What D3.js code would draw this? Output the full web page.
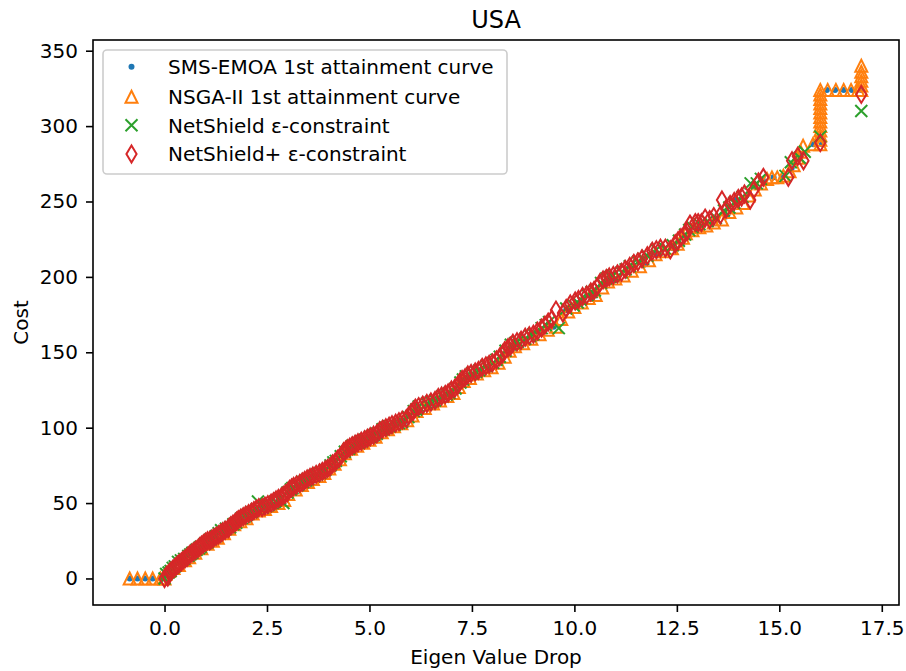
<!DOCTYPE html>
<html>
<head>
<meta charset="utf-8">
<script src="https://cdn.jsdelivr.net/npm/d3@7"></script>
<style>
  body { margin: 0; background: #fff; }
  svg { display: block; }
  text { font-family: "DejaVu Sans", sans-serif; fill: #000; }
</style>
</head>
<body>
<svg id="chart" width="906" height="671"></svg>
<script>
// Series: [eigen value drop, cost]
const smsEmoa = [[-0.85,0],[-0.66,0],[-0.47,0],[-0.29,0],[-0.1,0],[0,0],[0.15,6],[0.4,10],[0.7,16],[1.0,22],[1.3,28],[1.6,34],[1.95,40],[2.3,45],[2.6,49],[2.77,55],[3.1,58],[3.45,63],[3.8,69],[4.1,74],[4.38,82],[4.6,87],[4.9,91],[5.2,95],[5.5,100],[5.85,104],[6.1,110],[6.45,115],[6.8,120],[7.1,124],[7.26,128],[7.5,134],[7.9,139],[8.2,144],[8.45,152],[8.8,157],[9.2,163],[9.5,167],[9.8,178],[10.1,182],[10.45,187],[10.75,195],[10.95,198],[11.3,203],[11.7,208],[12.0,215],[12.4,219],[12.7,227],[13.0,232],[13.35,235],[13.7,240],[13.92,251],[14.2,254],[14.36,260],[14.6,264],[14.86,266],[15.06,266],[15.3,272],[15.5,280],[15.83,288],[16.04,288],[16.16,324],[16.36,324],[16.57,324],[16.77,324],[17.0,324]];

const nsga2 = [[-0.85,0],[-0.66,0],[-0.47,0],[-0.29,0],[-0.1,0],[0,0],[0.02,3],[0.1,5],[0.22,7],[0.35,9],[0.5,12],[0.6,14],[0.75,17],[0.9,20],[1.05,23],[1.18,25],[1.3,27],[1.45,30],[1.58,33],[1.7,36],[1.85,38],[2.0,40],[2.15,43],[2.3,45],[2.45,46],[2.6,48],[2.78,50],[2.92,52],[3.02,56],[3.2,59],[3.35,62],[3.5,64],[3.62,66],[3.78,68],[3.9,70],[4.02,73],[4.15,76],[4.28,79],[4.4,83],[4.55,86],[4.7,88],[4.85,90],[5.0,92],[5.15,94],[5.3,97],[5.45,99],[5.6,101],[5.78,103],[5.92,105],[6.05,108],[6.15,111],[6.35,113],[6.55,116],[6.72,118],[6.9,121],[7.05,123],[7.18,127],[7.3,131],[7.45,133],[7.62,136],[7.8,138],[7.98,140],[8.15,143],[8.3,147],[8.42,151],[8.55,154],[8.75,156],[8.95,159],[9.15,162],[9.35,165],[9.55,167],[9.68,172],[9.85,177],[10.0,180],[10.18,183],[10.35,186],[10.52,188],[10.68,193],[10.82,197],[11.0,199],[11.2,201],[11.4,204],[11.6,207],[11.82,211],[11.98,215],[12.18,217],[12.38,219],[12.52,222],[12.65,226],[12.72,229],[12.88,231],[13.05,233],[13.22,234],[13.4,236],[13.6,238],[13.78,243],[13.95,246],[14.12,249],[14.25,254],[14.4,258],[14.55,262],[14.7,265],[14.82,266],[14.95,266],[15.1,267],[15.25,270],[15.35,274],[15.45,279],[15.52,283],[15.58,287],[15.82,288],[16.0,288],[16.0,291],[16.0,294],[16.0,297],[16.0,300],[16.0,303],[16.0,306],[16.0,309],[16.0,312],[16.0,315],[16.0,318],[16.0,321],[16.0,324],[16.18,324],[16.38,324],[16.57,324],[16.75,324],[16.92,324],[17.0,324],[17.0,327],[17.0,330],[17.0,333],[17.0,336],[17.0,340]];

const netShield = [[0.0,0],[0.04,3],[0.1,4],[0.15,5],[0.2,7],[0.25,8],[0.33,11],[0.4,12],[0.48,13],[0.58,15],[0.63,16],[0.68,17],[0.78,19],[0.84,20],[0.88,21],[0.98,23],[1.05,24],[1.12,26],[1.25,28],[1.32,30],[1.38,32],[1.5,33],[1.6,34],[1.68,36],[1.75,37],[1.88,40],[1.95,41],[2.0,42],[2.12,44],[2.28,51],[2.25,46],[2.4,47],[2.48,48],[2.55,49],[2.7,51],[2.82,53],[2.9,50],[3.0,57],[3.08,59],[3.12,60],[3.25,62],[3.38,64],[3.45,65],[3.5,66],[3.65,68],[3.72,69],[3.8,70],[3.92,72],[4.05,75],[4.12,77],[4.18,78],[4.3,81],[4.4,84],[4.5,86],[4.58,88],[4.72,90],[4.8,91],[4.88,92],[5.02,94],[5.1,95],[5.18,96],[5.32,99],[5.4,100],[5.48,101],[5.62,102],[5.72,103],[5.8,104],[5.95,107],[6.08,111],[6.14,112],[6.2,114],[6.4,116],[6.5,117],[6.6,118],[6.78,121],[6.88,122],[6.95,123],[7.1,126],[7.22,130],[7.28,132],[7.35,134],[7.5,136],[7.6,137],[7.68,138],[7.85,141],[8.02,143],[8.1,145],[8.18,147],[8.32,151],[8.45,155],[8.55,156],[8.62,157],[8.8,159],[8.92,161],[9.0,162],[9.2,166],[9.3,168],[9.38,170],[9.62,166],[9.8,179],[9.98,181],[10.08,183],[10.15,185],[10.32,188],[10.42,190],[10.5,191],[10.65,196],[10.78,199],[10.88,200],[10.95,201],[11.15,203],[11.25,205],[11.35,207],[11.55,210],[11.68,212],[11.78,214],[12.0,218],[12.2,219],[12.4,221],[12.55,224],[12.7,228],[12.8,231],[12.88,233],[13.05,235],[13.25,237],[13.45,239],[13.65,244],[13.78,246],[13.9,249],[14.1,253],[14.3,262],[14.45,262],[14.55,265],[15.15,267],[15.28,276],[15.5,279],[15.62,283],[16.0,293],[17.0,310]];

const netShieldPlus = [[0.0,0],[0.05,2],[0.08,1],[0.12,4],[0.16,5],[0.2,6],[0.24,7],[0.28,8],[0.32,9],[0.36,10],[0.41,11],[0.45,12],[0.5,13],[0.55,14],[0.58,15],[0.62,16],[0.67,17],[0.72,18],[0.77,19],[0.82,20],[0.86,21],[0.9,22],[0.95,23],[1.0,24],[1.05,25],[1.1,25],[1.15,26],[1.2,27],[1.26,28],[1.32,29],[1.37,30],[1.42,31],[1.48,32],[1.55,33],[1.58,34],[1.62,35],[1.67,36],[1.72,37],[1.76,38],[1.8,39],[1.86,40],[1.92,41],[1.98,42],[2.05,43],[2.12,44],[2.18,45],[2.24,46],[2.3,47],[2.38,47],[2.45,48],[2.52,49],[2.6,50],[2.66,51],[2.72,52],[2.78,53],[2.85,54],[2.9,55],[2.95,56],[3.0,57],[3.05,59],[3.1,60],[3.15,61],[3.22,62],[3.3,63],[3.36,64],[3.42,65],[3.48,66],[3.55,67],[3.62,68],[3.7,69],[3.78,70],[3.85,71],[3.92,72],[3.98,73],[4.04,74],[4.1,76],[4.16,77],[4.22,79],[4.27,80],[4.32,82],[4.37,84],[4.42,85],[4.47,86],[4.52,87],[4.58,88],[4.65,89],[4.72,90],[4.8,91],[4.88,92],[4.95,93],[5.02,94],[5.1,95],[5.18,96],[5.25,98],[5.32,99],[5.4,100],[5.48,101],[5.55,102],[5.64,103],[5.72,104],[5.8,105],[5.9,106],[5.96,108],[6.02,110],[6.07,111],[6.12,113],[6.2,114],[6.3,115],[6.4,116],[6.5,117],[6.6,118],[6.68,120],[6.76,121],[6.85,122],[6.92,123],[7.0,125],[7.08,126],[7.15,128],[7.2,130],[7.26,132],[7.33,133],[7.4,135],[7.48,136],[7.58,137],[7.66,138],[7.75,140],[7.84,141],[7.92,142],[8.0,143],[8.1,145],[8.18,147],[8.25,149],[8.3,151],[8.38,153],[8.44,154],[8.5,156],[8.6,157],[8.7,158],[8.8,160],[8.9,161],[9.0,162],[9.1,164],[9.2,166],[9.28,168],[9.36,170],[9.45,172],[9.55,178],[9.72,176],[9.8,179],[9.9,182],[10.02,184],[10.1,185],[10.2,187],[10.3,188],[10.4,190],[10.48,191],[10.55,193],[10.62,196],[10.7,198],[10.78,199],[10.85,200],[10.95,201],[11.05,202],[11.15,203],[11.24,205],[11.35,207],[11.45,209],[11.55,210],[11.65,212],[11.78,214],[11.9,217],[12.0,218],[12.1,219],[12.22,219],[12.34,218],[12.46,222],[12.53,224],[12.6,226],[12.68,228],[12.75,230],[12.82,235],[12.95,236],[13.02,236],[13.1,236],[13.19,239],[13.3,238],[13.4,240],[13.56,241],[13.6,251],[13.7,245],[13.8,248],[13.9,250],[14.0,252],[14.08,253],[14.15,255],[14.29,251],[14.38,258],[14.49,263],[14.61,266],[15.22,266],[15.31,277],[15.45,280],[15.59,277],[16.0,289],[17.0,321]];

const seriesNames = ["SMS-EMOA 1st attainment curve", "NSGA-II 1st attainment curve", "NetShield \u03b5-constraint", "NetShield+ \u03b5-constraint"];
const seriesColors = ["#1f77b4", "#ff7f0e", "#2ca02c", "#d62728"];
const xTicks = [0, 2.5, 5, 7.5, 10, 12.5, 15, 17.5];
const yTicks = [0, 50, 100, 150, 200, 250, 300, 350];
const titleText = "USA";
const xLabel = "Eigen Value Drop";
const yLabel = "Cost";

const plot = { left: 93, right: 899, top: 40, bottom: 605 };

const svg = d3.select("#chart");
const x = d3.scaleLinear().domain([-1.745, 17.92]).range([plot.left, plot.right]);
const y = d3.scaleLinear().domain([-17.6, 357.1]).range([plot.bottom, plot.top]);

// Marker shapes (size ~12px, 2px edge)
const S = 12;
const markerPaths = {
  point: null,
  triangle: `M0,${-S/2}L${S/2},${S/2}L${-S/2},${S/2}Z`,
  cross: `M${-S/2},${-S/2}L${S/2},${S/2}M${-S/2},${S/2}L${S/2},${-S/2}`,
  thinDiamond: (() => { const h = S * Math.SQRT1_2, w = 0.6 * h; return `M0,${-h}L${w},0L0,${h}L${-w},0Z`; })()
};
const markerKinds = ["point", "triangle", "cross", "thinDiamond"];

function drawMarker(g, kind, color, cx, cy) {
  if (kind === "point") {
    g.append("circle").attr("cx", cx).attr("cy", cy).attr("r", 3).attr("fill", color);
  } else {
    g.append("path")
      .attr("d", markerPaths[kind])
      .attr("transform", `translate(${cx},${cy})`)
      .attr("fill", "none")
      .attr("stroke", color)
      .attr("stroke-width", 2)
      .attr("stroke-linejoin", "miter");
  }
}

const allSeries = [smsEmoa, nsga2, netShield, netShieldPlus];
const marks = svg.append("g");
allSeries.forEach((data, i) => {
  const g = marks.append("g").attr("class", "series-" + i);
  data.forEach(d => drawMarker(g, markerKinds[i], seriesColors[i], x(d[0]), y(d[1])));
});

// Axes
const xAxis = d3.axisBottom(x).tickValues(xTicks).tickFormat(d3.format(".1f")).tickSize(7).tickPadding(9);
const yAxis = d3.axisLeft(y).tickValues(yTicks).tickFormat(d3.format("d")).tickSize(7).tickPadding(8);

const gx = svg.append("g").attr("transform", `translate(0,${plot.bottom})`).call(xAxis);
const gy = svg.append("g").attr("transform", `translate(${plot.left},0)`).call(yAxis);
[gx, gy].forEach(g => {
  g.select(".domain").remove();
  g.selectAll(".tick line").attr("stroke", "#000").attr("stroke-width", 1.6);
  g.selectAll(".tick text").attr("font-size", 20).attr("font-family", "DejaVu Sans, sans-serif").attr("fill", "#000");
});

// Frame
svg.append("rect")
  .attr("x", plot.left).attr("y", plot.top)
  .attr("width", plot.right - plot.left).attr("height", plot.bottom - plot.top)
  .attr("fill", "none").attr("stroke", "#000").attr("stroke-width", 1.6);

// Title and axis labels
svg.append("text").attr("x", (plot.left + plot.right) / 2).attr("y", 28)
  .attr("text-anchor", "middle").attr("font-size", 24).text(titleText);
svg.append("text").attr("x", (plot.left + plot.right) / 2).attr("y", 664)
  .attr("text-anchor", "middle").attr("font-size", 20).text(xLabel);
svg.append("text").attr("transform", `translate(28,${(plot.top + plot.bottom) / 2}) rotate(-90)`)
  .attr("text-anchor", "middle").attr("font-size", 20).text(yLabel);

// Legend
const legend = svg.append("g");
legend.append("rect")
  .attr("x", 103).attr("y", 50).attr("width", 404).attr("height", 124).attr("rx", 4)
  .attr("fill", "#fff").attr("fill-opacity", 0.8)
  .attr("stroke", "#cccccc").attr("stroke-width", 1.6);
const rowY = [66.7, 96.7, 125.3, 154];
seriesNames.forEach((name, i) => {
  drawMarker(legend, markerKinds[i], seriesColors[i], 131.5, rowY[i]);
  legend.append("text").attr("x", 168).attr("y", rowY[i] + 7.3)
    .attr("font-size", 20).text(name);
});
</script>
</body>
</html>
